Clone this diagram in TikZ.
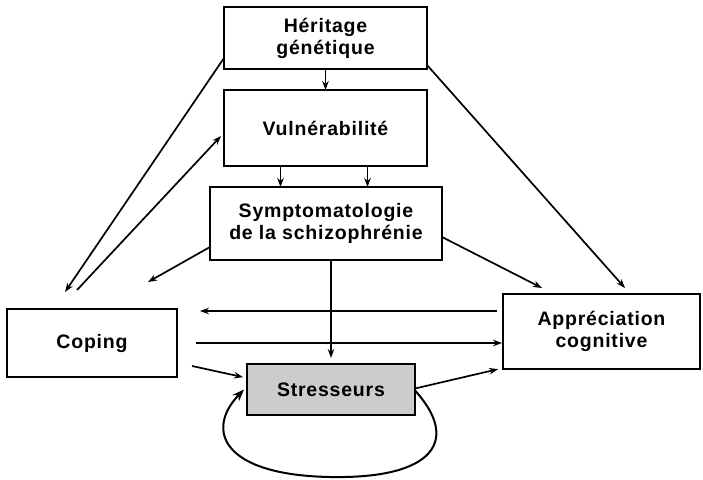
\documentclass[tikz,border=0pt]{standalone}
\usepackage{fontspec}
\setmainfont{Liberation Sans}[LetterSpace=4]
\usetikzlibrary{arrows.meta}

\begin{document}
\begin{tikzpicture}[x=1pt,y=-1pt,
	box/.style={draw, line width=2.8pt, align=center, inner sep=0pt, outer sep=0pt,
		font=\bfseries\fontsize{19.5}{22}\selectfont},
	arr/.style={line width=1.7pt, -{Stealth[length=9pt,width=6.5pt]}}]
	\useasboundingbox (0,0) rectangle (703,479);
	\node [box, minimum width=203pt, minimum height=62pt] (herit) at (325.5,38) {Héritage\\génétique};
	\node [box, minimum width=203pt, minimum height=76pt] (vuln) at (325.5,128) {Vulnérabilité};
	\node [box, minimum width=232pt, minimum height=73pt] (sympt) at (326,223.5) {Symptomatologie\\de la schizophrénie};
	\node [box, minimum width=170pt, minimum height=68pt] (coping) at (92,343) {Coping};
	\node [box, minimum width=168pt, minimum height=51pt, fill=gray!40] (stress) at (331,389.5) {Stresseurs};
	\node [box, minimum width=197pt, minimum height=75pt] (apprec) at (601.5,331.5) {Appréciation\\cognitive};
	\coordinate (copA) at (65,292);
	\coordinate (copB) at (77,290);
	\coordinate (copC) at (148,282);
	\coordinate (copD) at (200,311);
	\coordinate (copE) at (196,343);
	\coordinate (copF) at (192,366);
	\coordinate (appA) at (542,288);
	\coordinate (appB) at (625,288);
	\coordinate (appC) at (497,311);
	\draw [arr] (herit.south) -- (vuln.north);
	\draw [arr] ([xshift=-45pt]vuln.south) -- ([xshift=-45pt]vuln.south |- sympt.north);
	\draw [arr] ([xshift=42pt]vuln.south) -- ([xshift=42pt]vuln.south |- sympt.north);
	\draw [arr] ([yshift=11pt]herit.south west) -- (copA);
	\draw [arr] (copB) -- ([yshift=-8pt,xshift=-3pt]vuln.west);
	\draw [arr] ([yshift=13pt]sympt.south west) -- (copC);
	\draw [arr] ([yshift=23pt]sympt.south east) -- (appA);
	\draw [arr] ([yshift=4pt]herit.south east) -- (appB);
	\draw [arr, shorten >=6pt] (sympt.south -| stress.north) -- (stress.north);
	\draw [arr] (appC) -- (copD);
	\draw [arr, shorten >=1pt] (copE) -- (copE -| apprec.west);
	\draw [arr, shorten >=4pt] (copF) -- ([yshift=-14pt]stress.north west);
	\draw [arr, shorten >=5pt] ([yshift=1pt]stress.east) -- ([yshift=1pt]apprec.south west);
	% boucle des stresseurs
	\draw [line width=2pt, -{Stealth[length=12pt,width=9pt]}] ([yshift=-1pt]stress.east) .. controls (460,440) and (435,479) .. (330,477) .. controls (222,475) and (205,430) .. ([xshift=-3pt]stress.west);
\end{tikzpicture}
\end{document}
